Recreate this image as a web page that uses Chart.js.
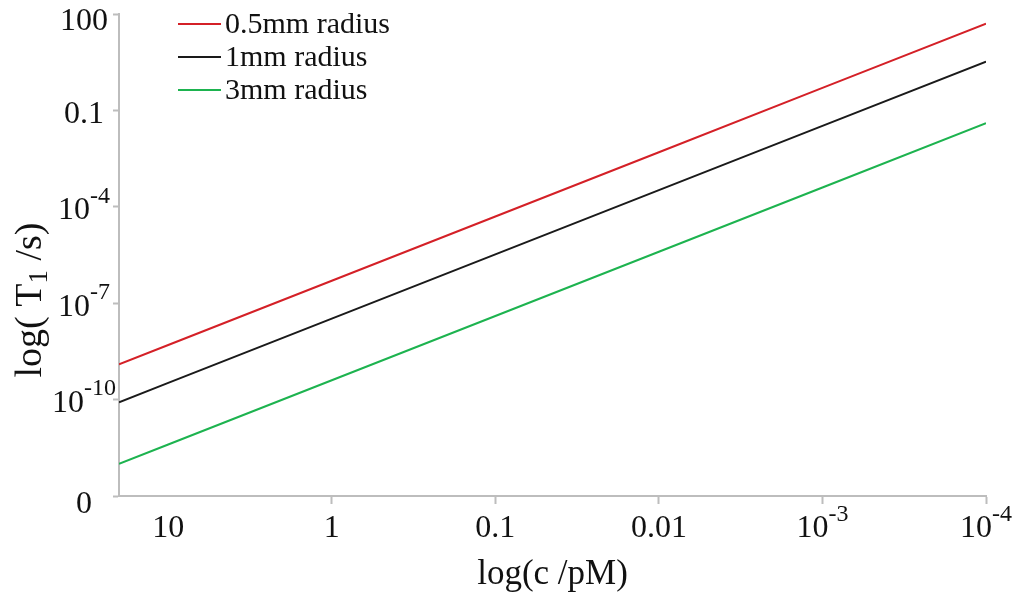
<!DOCTYPE html>
<html>
<head>
<meta charset="utf-8">
<script src="https://cdn.jsdelivr.net/npm/chart.js@4.4.1/dist/chart.umd.min.js"></script>
<style>
  html, body { margin: 0; padding: 0; background: #fff; }
  #wrap { width: 1026px; height: 594px; }
</style>
</head>
<body>
<div id="wrap"><canvas id="t1Chart" width="1026" height="594"></canvas></div>
<script>
// T1 vs concentration, log-log, three bead radii
const concentrations = [20, 10, 1, 0.1, 0.01, 0.001, 0.0001];
const t1Radius05 = [1.25e-9, 5e-9, 5e-7, 5e-5, 5e-3, 0.5, 50];
const t1Radius1 = [8.3e-11, 3.3e-10, 3.3e-8, 3.3e-6, 3.3e-4, 0.033, 3.3];
const t1Radius3 = [1e-12, 4e-12, 4e-10, 4e-8, 4e-6, 4e-4, 0.04];
const seriesLabels = ['0.5mm radius', '1mm radius', '3mm radius'];
const seriesColors = ['#d42027', '#1a1a1a', '#1db34f'];

// tick values and their printed labels: [base, superscript]
const xTicks = [10, 1, 0.1, 0.01, 1e-3, 1e-4];
const xTickLabels = [['10', ''], ['1', ''], ['0.1', ''], ['0.01', ''], ['10', '-3'], ['10', '-4']];
const yTicks = [1e-13, 1e-10, 1e-7, 1e-4, 0.1, 100];
const yTickLabels = [['0', ''], ['10', '-10'], ['10', '-7'], ['10', '-4'], ['0.1', ''], ['100', '']];

const SERIF = "'Liberation Serif', 'Times New Roman', serif";
const AXIS_GREY = '#bdbdbd';
const INK = '#111';

function toPoints(values) {
    return concentrations.map((c, i) => ({ x: c, y: values[i] }));
}

// text with an optional raised exponent, centred on (cx, cy)
function drawPower(ctx, base, sup, cx, cy, size) {
    const supSize = Math.round(size * 0.75);
    ctx.font = size + 'px ' + SERIF;
    const wb = ctx.measureText(base).width;
    ctx.font = supSize + 'px ' + SERIF;
    const ws = sup ? ctx.measureText(sup).width : 0;
    const left = cx - (wb + ws) / 2;
    ctx.textBaseline = 'middle';
    ctx.textAlign = 'left';
    ctx.font = size + 'px ' + SERIF;
    ctx.fillText(base, left, cy);
    if (sup) {
        ctx.font = supSize + 'px ' + SERIF;
        ctx.fillText(sup, left + wb, cy - size * 0.45);
    }
}

const axisText = {
    id: 'axisText',
    afterDraw(chart) {
        const { ctx, scales: { x, y }, chartArea } = chart;
        ctx.save();
        ctx.fillStyle = INK;

        xTicks.forEach((v, i) => {
            const px = x.getPixelForValue(v);
            drawPower(ctx, xTickLabels[i][0], xTickLabels[i][1], px, chartArea.bottom + 33, 32);
        });
        yTicks.forEach((v, i) => {
            let py = y.getPixelForValue(v) + 4;
            if (i === 0) py += 5;
            py = Math.max(py, 22);
            drawPower(ctx, yTickLabels[i][0], yTickLabels[i][1], 84, py, 32);
        });

        // x title
        ctx.font = '35px ' + SERIF;
        ctx.textAlign = 'center';
        ctx.textBaseline = 'middle';
        ctx.fillText('log(c /pM)', (chartArea.left + chartArea.right) / 2, 575);

        // y title with subscript
        ctx.translate(31, 300);
        ctx.rotate(-Math.PI / 2);
        const parts = [['log( T', 38, 0], ['1', 27, 9], [' /s)', 38, 0]];
        let total = 0;
        parts.forEach(p => { ctx.font = p[1] + 'px ' + SERIF; total += ctx.measureText(p[0]).width; });
        let cx = -total / 2;
        ctx.textAlign = 'left';
        parts.forEach(p => {
            ctx.font = p[1] + 'px ' + SERIF;
            ctx.fillText(p[0], cx, p[2]);
            cx += ctx.measureText(p[0]).width;
        });
        ctx.restore();

        // legend in the upper left of the plot
        ctx.save();
        chart.data.datasets.forEach((ds, i) => {
            const rowY = 24 + i * 33;
            ctx.strokeStyle = ds.borderColor;
            ctx.lineWidth = 2;
            ctx.beginPath();
            ctx.moveTo(178, rowY);
            ctx.lineTo(221, rowY);
            ctx.stroke();
            ctx.fillStyle = INK;
            ctx.font = '30px ' + SERIF;
            ctx.textAlign = 'left';
            ctx.textBaseline = 'middle';
            ctx.fillText(ds.label, 225, rowY + 1);
        });
        ctx.restore();
    }
};

new Chart(document.getElementById('t1Chart'), {
    type: 'line',
    data: {
        datasets: [t1Radius05, t1Radius1, t1Radius3].map((vals, i) => ({
            label: seriesLabels[i],
            data: toPoints(vals),
            borderColor: seriesColors[i],
            backgroundColor: seriesColors[i],
            borderWidth: 2,
            pointRadius: 0,
            tension: 0,
            fill: false
        }))
    },
    options: {
        responsive: false,
        animation: false,
        devicePixelRatio: 1,
        layout: { padding: { top: 14, right: 40, left: 0, bottom: 0 } },
        plugins: {
            legend: { display: false },
            tooltip: { enabled: false }
        },
        scales: {
            x: {
                type: 'logarithmic',
                reverse: true,
                min: 1e-4,
                max: 20,
                border: { color: AXIS_GREY, width: 2 },
                grid: {
                    drawOnChartArea: false,
                    tickLength: 8,
                    tickWidth: 2,
                    tickColor: ctx => (ctx.tick && ctx.tick.value === 10 ? 'rgba(0,0,0,0)' : AXIS_GREY)
                },
                ticks: { display: false },
                afterBuildTicks: s => { s.ticks = xTicks.map(v => ({ value: v })); },
                afterFit: s => { s.height = 98; }
            },
            y: {
                type: 'logarithmic',
                min: 1e-13,
                max: 100,
                border: { color: AXIS_GREY, width: 2 },
                grid: {
                    drawOnChartArea: false,
                    tickLength: 6,
                    tickWidth: 2,
                    tickColor: AXIS_GREY
                },
                ticks: { display: false },
                afterBuildTicks: s => { s.ticks = yTicks.map(v => ({ value: v })); },
                afterFit: s => { s.width = 119; }
            }
        }
    },
    plugins: [axisText]
});
</script>
</body>
</html>
